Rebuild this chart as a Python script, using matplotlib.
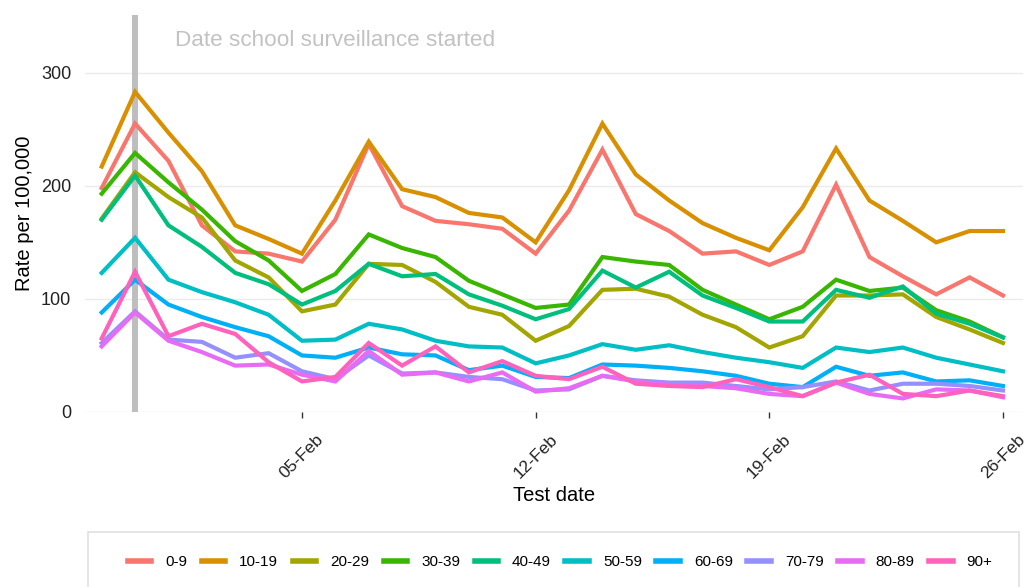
import matplotlib
matplotlib.use("Agg")
import matplotlib.pyplot as plt
import matplotlib.dates as mdates
from matplotlib.patches import Rectangle
import numpy as np

plt.rcParams['font.family'] = ['Liberation Sans', 'DejaVu Sans']

dates = np.arange(np.datetime64('2021-01-30'), np.datetime64('2021-02-27'))
tick_dates = ['2021-02-05', '2021-02-12', '2021-02-19', '2021-02-26']
vline_date = '2021-01-31'
age_groups = ['0-9', '10-19', '20-29', '30-39', '40-49', '50-59', '60-69', '70-79', '80-89', '90+']
colors = ['#F8766D', '#D89000', '#A3A500', '#39B600', '#00BF7D', '#00BFC4', '#00B0F6', '#9590FF', '#E76BF3', '#FF62BC']

r_0_9 = [198, 255, 222, 165, 142, 140, 133, 170, 237, 182, 169, 166, 162, 140, 178, 232, 175, 160,
         140, 142, 130, 142, 201, 137, 120, 104, 119, 103]
r_10_19 = [217, 283, 247, 213, 165, 153, 140, 187, 239, 197, 190, 176, 172, 150, 196, 255, 210, 187,
           167, 154, 143, 181, 233, 187, 169, 150, 160, 160]
r_20_29 = [171, 212, 190, 172, 134, 119, 89, 95, 131, 130, 115, 93, 86, 63, 76, 108, 109, 102,
           86, 75, 57, 67, 103, 103, 104, 84, 73, 61]
r_30_39 = [193, 229, 203, 179, 151, 134, 107, 122, 157, 145, 137, 116, 104, 92, 95, 137, 133, 130,
           108, 95, 82, 93, 117, 107, 110, 90, 80, 66]
r_40_49 = [170, 209, 165, 146, 123, 113, 95, 107, 131, 120, 122, 104, 94, 82, 91, 125, 110, 124,
           103, 92, 80, 80, 108, 101, 111, 87, 78, 66]
r_50_59 = [123, 154, 117, 106, 97, 86, 63, 64, 78, 73, 63, 58, 57, 43, 50, 60, 55, 59,
           53, 48, 44, 39, 57, 53, 57, 48, 42, 36]
r_60_69 = [88, 117, 95, 84, 75, 67, 50, 48, 57, 51, 50, 37, 41, 31, 30, 42, 41, 39,
           36, 32, 25, 22, 40, 32, 35, 27, 28, 23]
r_70_79 = [61, 89, 64, 62, 48, 52, 36, 29, 50, 34, 35, 31, 29, 19, 20, 32, 28, 26,
           26, 23, 20, 22, 27, 19, 25, 25, 23, 19]
r_80_89 = [58, 88, 63, 53, 41, 42, 33, 27, 54, 33, 35, 27, 35, 18, 21, 32, 27, 24,
           23, 21, 16, 14, 26, 16, 12, 20, 19, 13]
r_90p = [65, 124, 67, 78, 69, 44, 27, 31, 61, 41, 58, 35, 45, 32, 29, 40, 25, 23,
         22, 29, 22, 14, 26, 33, 16, 14, 19, 14]
series = [r_0_9, r_10_19, r_20_29, r_30_39, r_40_49, r_50_59, r_60_69, r_70_79, r_80_89, r_90p]

fig = plt.figure(figsize=(10.30, 5.87), dpi=100)
ax = fig.add_axes([85/1030, 1-412/587, (1023-85)/1030, (412-15)/587])

for spine in ax.spines.values():
    spine.set_visible(False)
ax.set_ylim(0, 351)
x0 = mdates.date2num(np.datetime64('2021-01-30')) - 0.5
x1 = mdates.date2num(np.datetime64('2021-02-26')) + 0.6
ax.set_xlim(x0, x1)
ax.set_yticks([0, 100, 200, 300])
ax.grid(axis='y', color='#EBEBEB', linewidth=1.0)
ax.set_axisbelow(True)
ax.tick_params(axis='y', length=0, pad=10, labelsize=13, labelcolor='#222222')
ax.set_xticks([mdates.date2num(np.datetime64(d)) for d in tick_dates])
ax.xaxis.set_major_formatter(mdates.DateFormatter('%d-%b'))
ax.tick_params(axis='x', length=4, width=1, color='#333333', pad=10, labelsize=12.5, labelcolor='#222222')
for lab in ax.get_xticklabels():
    lab.set_rotation(45)
    lab.set_ha('center')
    lab.set_va('top')

ax.axvline(mdates.date2num(np.datetime64(vline_date)), color='#BEBEBE', linewidth=4.3, zorder=1)

for name, vals, c in zip(age_groups, series, colors):
    ax.plot(dates, vals, color=c, linewidth=3, label=name, solid_joinstyle='miter', zorder=2)

fig.text(175/1030, 1-40/587, 'Date school surveillance started', color='#C2C2C2',
         fontsize=16.2, ha='left', va='center')

ax.set_xlabel('Test date', fontsize=14.5, labelpad=4)
ax.set_ylabel('Rate per 100,000', fontsize=14.5, labelpad=5)

fig.patches.append(Rectangle((88/1030, -0.05), (1019-88)/1030, 0.05 + (587-532)/587,
                             transform=fig.transFigure, facecolor='white',
                             edgecolor='#E0E0E0', linewidth=1.2, zorder=0))
handles, labels = ax.get_legend_handles_labels()
leg = fig.legend(handles, labels, loc='center', bbox_to_anchor=(560/1030, 1-562/587), ncol=10,
                 frameon=False, fontsize=11, handlelength=1.55, handletextpad=0.9,
                 columnspacing=0.95)
for h in leg.get_lines():
    h.set_linewidth(4)

fig.savefig('out.png', dpi=100)
